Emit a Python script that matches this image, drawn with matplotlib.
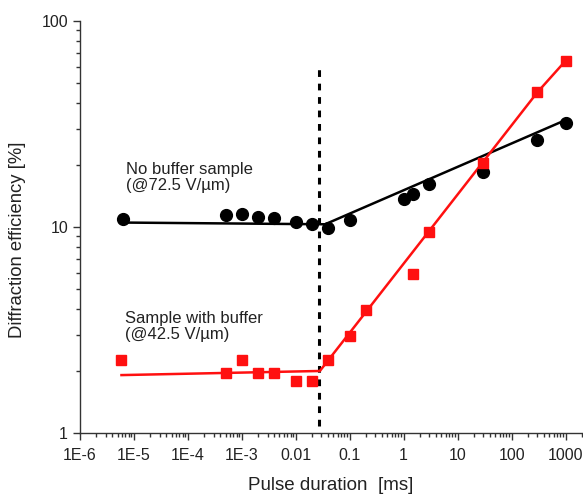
import matplotlib as mpl
mpl.use("Agg")
import matplotlib.pyplot as plt
from matplotlib.ticker import LogLocator, FixedLocator, FixedFormatter, NullFormatter

mpl.rcParams.update({
    "font.family": ["Liberation Sans", "DejaVu Sans"],
    "font.size": 10,
})

# --- Data ---
# No buffer sample (@72.5 V/um), black circles
t_nobuf = [6.2e-6, 5e-4, 1e-3, 2e-3, 4e-3, 0.01, 0.02, 0.04, 0.1, 1.0, 1.5, 3.0, 30, 300, 1000]
eff_nobuf = [10.9, 11.4, 11.5, 11.2, 11.1, 10.6, 10.3, 9.9, 10.8, 13.6, 14.4, 16.2, 18.5, 26.3, 32.0]
fit_nobuf_t = [6.2e-6, 0.035, 1000]
fit_nobuf_y = [10.5, 10.3, 33.0]

# Sample with buffer (@42.5 V/um), red squares
t_buf = [5.9e-6, 5e-4, 1e-3, 2e-3, 4e-3, 0.01, 0.02, 0.04, 0.1, 0.2, 1.5, 3.0, 30, 300, 1000]
eff_buf = [2.27, 1.95, 2.27, 1.95, 1.95, 1.79, 1.79, 2.27, 2.95, 3.97, 5.9, 9.5, 20.5, 45, 64]
fit_buf_t = [5.9e-6, 0.028, 300, 1000]
fit_buf_y = [1.91, 2.0, 45, 64]

# threshold marker
t_thresh = 0.027
thresh_y = [1.08, 62]

xtick_vals = [1e-6, 1e-5, 1e-4, 1e-3, 0.01, 0.1, 1, 10, 100, 1000]
xtick_labels = ["1E-6", "1E-5", "1E-4", "1E-3", "0.01", "0.1", "1", "10", "100", "1000"]
ytick_vals = [1, 10, 100]
ytick_labels = ["1", "10", "100"]

RED = "#FF1010"

fig = plt.figure(figsize=(5.83, 4.96), dpi=100)
ax = fig.add_axes([0.137, 0.127, 0.861, 0.831])

ax.plot(fit_nobuf_t, fit_nobuf_y, color="black", lw=1.8, zorder=2)
ax.plot(t_nobuf, eff_nobuf, "o", color="black", ms=8.5, zorder=3)

ax.plot(fit_buf_t, fit_buf_y, color=RED, lw=1.8, zorder=2)
ax.plot(t_buf, eff_buf, "s", color=RED, ms=7.5, zorder=3)

ax.plot([t_thresh, t_thresh], thresh_y, color="black", lw=2.2,
        linestyle=(0, (2.2, 2.2)), zorder=1)

ax.text(7.3e-6, 20.6, "No buffer sample\n(@72.5 V/\u00b5m)", fontsize=12,
        ha="left", va="top", color="#222222", linespacing=1.1)
ax.text(6.8e-6, 3.9, "Sample with buffer\n(@42.5 V/\u00b5m)", fontsize=12,
        ha="left", va="top", color="#222222", linespacing=1.1)

ax.set_xscale("log")
ax.set_yscale("log")
ax.set_xlim(1e-6, 2000)
ax.set_ylim(1, 100)

ax.xaxis.set_major_locator(FixedLocator(xtick_vals))
ax.xaxis.set_major_formatter(FixedFormatter(xtick_labels))
ax.xaxis.set_minor_locator(LogLocator(base=10, subs=range(2, 10), numticks=20))
ax.xaxis.set_minor_formatter(NullFormatter())
ax.yaxis.set_major_locator(FixedLocator(ytick_vals))
ax.yaxis.set_major_formatter(FixedFormatter(ytick_labels))
ax.yaxis.set_minor_locator(LogLocator(base=10, subs=range(2, 10), numticks=20))
ax.yaxis.set_minor_formatter(NullFormatter())

for s in ["top", "right"]:
    ax.spines[s].set_visible(False)
for s in ["left", "bottom"]:
    ax.spines[s].set_linewidth(1.0)
    ax.spines[s].set_color("#333333")

ax.tick_params(which="major", direction="out", length=5, width=1.0,
               labelsize=11.5, colors="#333333", labelcolor="#222222")
ax.tick_params(which="minor", direction="out", length=3, width=1.0, colors="#333333")
ax.tick_params(axis="x", pad=6)

ax.set_xlabel("Pulse duration  [ms]", fontsize=13.5, color="#222222", labelpad=10)
ax.set_ylabel("Diffraction efficiency [%]", fontsize=13.3, color="#222222")
ax.yaxis.set_label_coords(-0.108, 0.47)

fig.savefig("out.png", dpi=100)
